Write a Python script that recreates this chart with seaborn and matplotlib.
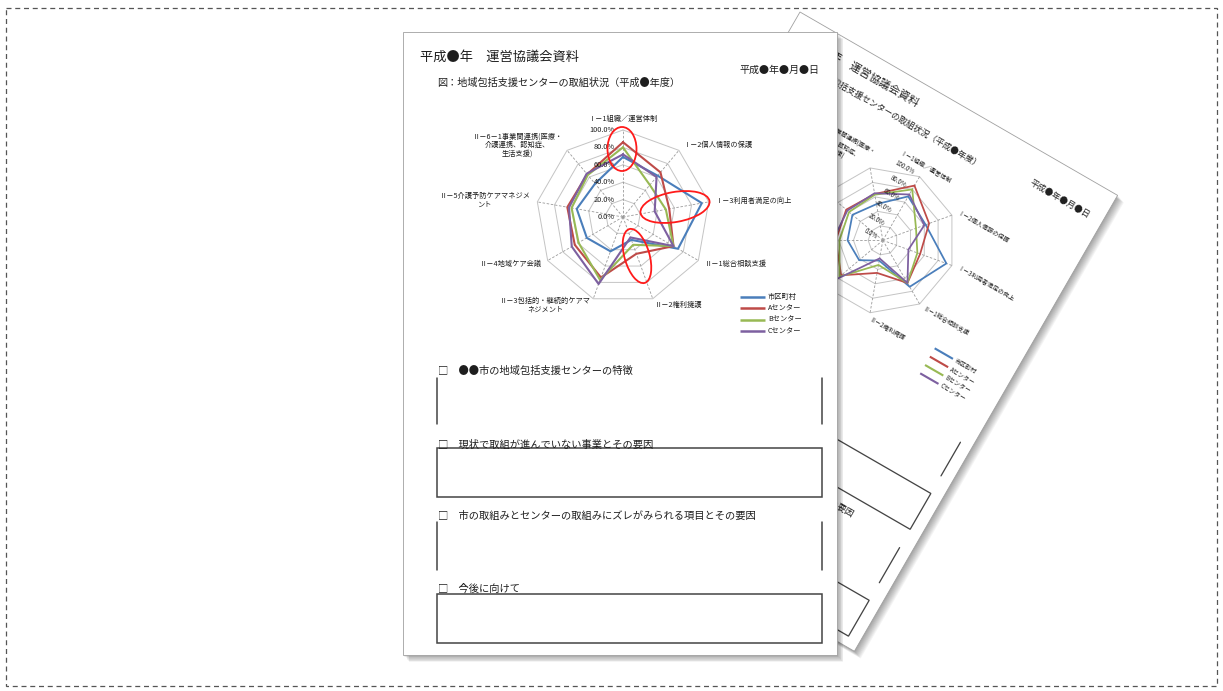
import numpy as np
import pandas as pd
import seaborn as sns
import matplotlib.pyplot as plt
from matplotlib.patches import Rectangle, Ellipse
from matplotlib.transforms import Affine2D

# radar axes, clockwise from the top
categories = ['Ⅰ－1組織／運営体制', 'Ⅰ－2個人情報の保護', 'Ⅰ－3利用者満足の向上',
              'Ⅱ－1総合相談支援', 'Ⅱ－2権利擁護', 'Ⅱ－3包括的・継続的ケアマ\nネジメント',
              'Ⅱ－4地域ケア会議', 'Ⅱ－5介護予防ケアマネジメ\nント',
              'Ⅱ－6－1事業間連携(医療・\n介護連携、認知症、\n生活支援)']
series_names = ['市区町村', 'Aセンター', 'Bセンター', 'Cセンター']
series_colors = ['#4a7ebb', '#be4b48', '#98b954', '#7d60a0']
shikuchoson = [0.69, 0.62, 0.92, 0.73, 0.28, 0.42, 0.48, 0.54, 0.50]
a_center = [0.86, 0.67, 0.54, 0.67, 0.45, 0.74, 0.64, 0.65, 0.64]
b_center = [0.80, 0.48, 0.50, 0.67, 0.34, 0.77, 0.59, 0.60, 0.63]
c_center = [0.72, 0.60, 0.37, 0.67, 0.25, 0.82, 0.68, 0.63, 0.65]
r_ticks = [0.0, 0.2, 0.4, 0.6, 0.8, 1.0]

doc_title = '平成●年　運営協議会資料'
doc_date = '平成●年●月●日'
fig_title = '図：地域包括支援センターの取組状況（平成●年度）'
headings = ['□　●●市の地域包括支援センターの特徴',
            '□　現状で取組が進んでいない事業とその要因',
            '□　市の取組みとセンターの取組みにズレがみられる項目とその要因',
            '□　今後に向けて']

W_PX, H_PX = 1223, 691
PAGE_W, PAGE_H = 434, 623
RC = (220, 185)   # radar centre on the page
RR = 87           # radar radius on the page

sns.set_theme(style='white')
plt.rcParams['font.family'] = ['Noto Sans CJK JP', 'DejaVu Sans']

values = [shikuchoson, a_center, b_center, c_center]
angles = np.linspace(0, 2 * np.pi, len(categories), endpoint=False)
theta_closed = np.append(angles, 2 * np.pi)
df = pd.concat([pd.DataFrame({'theta': theta_closed, 'value': v + v[:1], 'series': n})
                for n, v in zip(series_names, values)], ignore_index=True)

fig = plt.figure(figsize=(W_PX / 100, H_PX / 100), dpi=100)


def pixel_axes(z):
    a = fig.add_axes([0, 0, 1, 1])
    a.set_xlim(0, W_PX)
    a.set_ylim(H_PX, 0)
    a.set_axis_off()
    a.patch.set_visible(False)
    a.set_zorder(z)
    return a


def draw_page(ax, ox, oy, s, rot):
    base = Affine2D().scale(s).rotate_deg(rot).translate(ox, oy)
    tr = base + ax.transData
    # soft drop shadow, offset in screen space
    for k in range(1, 10):
        sh = Affine2D().scale(s).rotate_deg(rot).translate(ox + k * 0.7, oy + k * 0.8)
        ax.add_patch(Rectangle((0, 0), PAGE_W, PAGE_H, transform=sh + ax.transData,
                               fc='black', alpha=0.045, lw=0))
    ax.add_patch(Rectangle((0, 0), PAGE_W, PAGE_H, transform=tr, fc='white',
                           ec='#a0a0a0', lw=0.6))
    kw = dict(transform=tr, rotation=-rot, rotation_mode='anchor', color='#1e1e1e')
    ax.text(17, 25, doc_title, fontsize=9.5 * s, ha='left', va='center', **kw)
    ax.text(417, 38, doc_date, fontsize=7.2 * s, ha='right', va='center', **kw)
    ax.text(34, 51, fig_title, fontsize=7.3 * s, ha='left', va='center', **kw)

    # legend of the chart
    for i, (name, col) in enumerate(zip(series_names, series_colors)):
        y = 265 + 11.4 * i
        ax.plot([337, 362], [y, y], transform=tr, color=col, lw=1.8 * s,
                solid_capstyle='butt')
        ax.text(365, y, name, fontsize=5.2 * s, ha='left', va='center', **kw)

    # text sections
    line = dict(transform=tr, color='#444444', lw=1.1 * s)
    heads_y = [339, 413, 484, 557]
    for y, h in zip(heads_y, headings):
        ax.text(35, y, h, fontsize=7.4 * s, ha='left', va='center', **kw)
    for y0, y1 in [(346, 392), (490, 538)]:
        ax.plot([34, 34], [y0, y1], **line)
        ax.plot([419, 419], [y0, y1], **line)
    for y0, y1 in [(416, 465), (562, 611)]:
        ax.add_patch(Rectangle((34, y0), 385, y1 - y0, fill=False, ec='#444444',
                               lw=1.1 * s, transform=tr))
    return base


def draw_radar(base, s, rot, z):
    cx, cy = base.transform(RC)
    r = RR * s
    pax = fig.add_axes([(cx - r) / W_PX, 1 - (cy + r) / H_PX, 2 * r / W_PX, 2 * r / H_PX],
                       projection='polar')
    pax.set_zorder(z)
    pax.set_theta_direction(-1)
    pax.set_theta_offset(np.pi / 2 - np.deg2rad(rot))
    pax.set_ylim(0, 1)
    for rt in r_ticks[1:]:
        pax.plot(theta_closed, [rt] * len(theta_closed), color='#c4c4c4', lw=0.7)
    for a in angles:
        pax.plot([a, a], [0, 1], color='#9a9a9a', lw=0.6, ls=(0, (3, 2)))
    sns.lineplot(data=df, x='theta', y='value', hue='series', hue_order=series_names,
                 palette=dict(zip(series_names, series_colors)), sort=False,
                 estimator=None, legend=False, lw=1.5 * s, ax=pax)
    for ln in pax.lines:
        ln.set_clip_on(False)
    pax.set_axis_off()
    kw = dict(rotation=-rot, rotation_mode='anchor', color='#1e1e1e')
    off = 8 / RR
    for rt in r_ticks:
        pax.text(np.arctan2(-off, rt), np.hypot(rt, off), f'{rt * 100:.1f}%',
                 fontsize=5.3 * s, ha='right', va='center', **kw)
    for a, lab in zip(angles, categories):
        sa, ca = np.sin(a), np.cos(a)
        if abs(sa) < 0.1:
            ha, va = 'center', ('bottom' if ca > 0 else 'top')
        else:
            ha, va = ('left' if sa > 0 else 'right'), 'center'
        pax.text(a, 1.08, lab, fontsize=5.2 * s, ha=ha, va=va, ma='center',
                 linespacing=1.15, **kw)
    return pax


ax_bg = pixel_axes(0)
ax_bg.add_patch(Rectangle((6, 8), 1211, 678, fill=False, ec='#555555', lw=0.9,
                          ls=(0, (4, 3))))

# back page, tilted
back = draw_page(ax_bg, 800, 12, 0.845, 30)
draw_radar(back, 0.845, 30, 1)

# front page
ax_fg = pixel_axes(2)
front = draw_page(ax_fg, 403, 32, 1.0, 0)
draw_radar(front, 1.0, 0, 3)

# red highlight ellipses
ax_top = pixel_axes(4)
for (x, y), w, h, ang in [((622, 149), 29, 44, 0), ((675, 207), 70, 30, -10),
                          ((637, 256), 25, 56, -16)]:
    ax_top.add_patch(Ellipse((x, y), w, h, angle=ang, fill=False, ec='#ff1a1a', lw=1.3))

fig.savefig('out.png', dpi=100)
